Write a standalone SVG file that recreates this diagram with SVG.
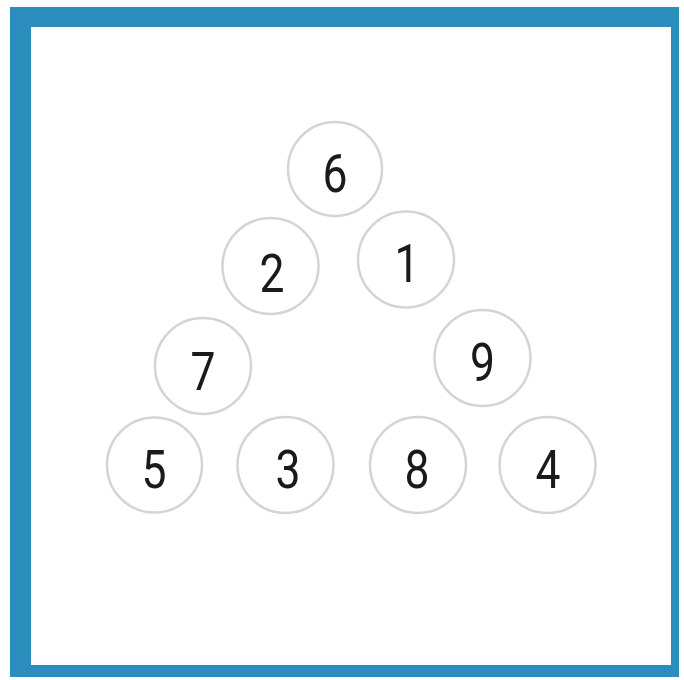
<svg xmlns="http://www.w3.org/2000/svg" width="684" height="680" viewBox="0 0 684 680">
<style>
.n circle{fill:#fff;stroke:#d4d4d4;stroke-width:2.5}
.n text{font-family:Roboto,"Liberation Sans",sans-serif;font-size:54px;fill:#1a1a1a;text-anchor:middle}
</style>
<rect x="10" y="7" width="669" height="670" fill="#2b8cbe"/>
<rect x="31" y="27" width="640" height="638" fill="#fff"/>
<g id="connectors"></g>
<g id="n6" class="n"><circle cx="335" cy="169" r="47"/><text x="335" y="192" textLength="25" lengthAdjust="spacingAndGlyphs">6</text></g>
<g id="n2" class="n"><circle cx="270.5" cy="266" r="48"/><text x="272" y="292" textLength="25" lengthAdjust="spacingAndGlyphs">2</text></g>
<g id="n1" class="n"><circle cx="406" cy="259.5" r="48"/><text x="407" y="282" textLength="25" lengthAdjust="spacingAndGlyphs">1</text></g>
<g id="n7" class="n"><circle cx="203" cy="366" r="48"/><text x="203" y="390" textLength="25" lengthAdjust="spacingAndGlyphs">7</text></g>
<g id="n9" class="n"><circle cx="482.5" cy="358" r="48"/><text x="482.5" y="381" textLength="25" lengthAdjust="spacingAndGlyphs">9</text></g>
<g id="n5" class="n"><circle cx="154.5" cy="465" r="47.5"/><text x="154" y="488" textLength="25" lengthAdjust="spacingAndGlyphs">5</text></g>
<g id="n3" class="n"><circle cx="285.5" cy="465" r="48"/><text x="288" y="488" textLength="25" lengthAdjust="spacingAndGlyphs">3</text></g>
<g id="n8" class="n"><circle cx="418" cy="465" r="48"/><text x="417" y="488" textLength="25" lengthAdjust="spacingAndGlyphs">8</text></g>
<g id="n4" class="n"><circle cx="547.5" cy="465" r="48"/><text x="548" y="488" textLength="25" lengthAdjust="spacingAndGlyphs">4</text></g>
</svg>
